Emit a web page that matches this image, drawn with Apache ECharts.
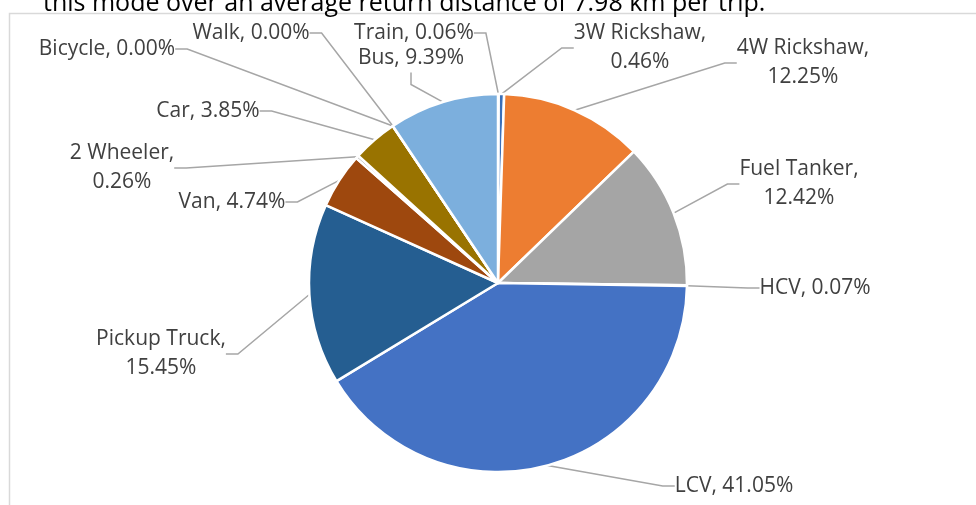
<!DOCTYPE html>
<html>
<head>
<meta charset="utf-8">
<title>Mode share</title>
<script src="https://cdn.jsdelivr.net/npm/echarts@6.0.0/dist/echarts.min.js"></script>
<style>
  html, body { margin: 0; padding: 0; background: #fff; }
  #myChart { width: 976px; height: 505px; }
</style>
</head>
<body>
<div id="myChart"></div>
<script>
  // categories in clockwise order starting at 12 o'clock
  const categories = ['Train', '3W Rickshaw', '4W Rickshaw', 'Fuel Tanker', 'HCV', 'LCV', 'Pickup Truck', 'Van', '2 Wheeler', 'Car', 'Walk', 'Bicycle', 'Bus'];
  const shares = [0.06, 0.46, 12.25, 12.42, 0.07, 41.05, 15.45, 4.74, 0.26, 3.85, 0.00, 0.00, 9.39];
  // names whose label wraps onto two lines
  const wrapped = ['3W Rickshaw', '4W Rickshaw', 'Fuel Tanker', '2 Wheeler', 'Pickup Truck'];
  const titleText = 'this mode over an average return distance of 7.98 km per trip.';

  const sliceColors = ['#264478', '#3a6fb8', '#ed7d31', '#a5a5a5', '#ffc000', '#4472c4', '#255e91', '#9e480e', '#636363', '#997300', '#43682b', '#698ed0', '#7cafdd'];
  // label centres (hand placed, like the original chart)
  const labelPos = [[414, 33], [640, 48], [803, 63], [799, 184], [815, 288], [734, 486], [161, 354], [232, 202], [122, 168], [208, 111], [251, 33], [107, 49], [411, 58]];

  const dom = document.getElementById('myChart');
  const myChart = echarts.init(dom);
  const option = {
    animation: false,
    color: sliceColors,
    graphic: [
      {
        type: 'rect',
        shape: {x: 9.5, y: 13.5, width: 1200, height: 800},
        style: {fill: 'none', stroke: '#d9d9d9', lineWidth: 1.5}
      },
      {
        type: 'text',
        left: 43,
        top: -9,
        style: {
          text: titleText,
          font: '25px "Open Sans"',
          fill: '#000'
        }
      }
    ],
    series: [
      {
        type: 'pie',
        center: [498, 283],
        radius: 189,
        startAngle: 90,
        clockwise: true,
        avoidLabelOverlap: false,
        itemStyle: {
          borderColor: '#fff',
          borderWidth: 2.5
        },
        label: {
          show: true,
          fontFamily: 'Open Sans',
          fontSize: 21,
          lineHeight: 29,
          color: '#404040',
          formatter: function (p) {
            const sep = wrapped.indexOf(p.name) >= 0 ? ',\n' : ', ';
            return p.name + sep + p.value.toFixed(2) + '%';
          }
        },
        labelLine: {
          show: true,
          length: 10,
          length2: 12,
          lineStyle: {color: '#a6a6a6', width: 1.5}
        },
        labelLayout: function (params) {
          const pos = labelPos[params.dataIndex];
          return {x: pos[0], y: pos[1], align: 'center', verticalAlign: 'middle'};
        },
        data: categories.map(function (name, i) {
          return {name: name, value: shares[i]};
        })
      }
    ]
  };
  myChart.setOption(option);
</script>
</body>
</html>
